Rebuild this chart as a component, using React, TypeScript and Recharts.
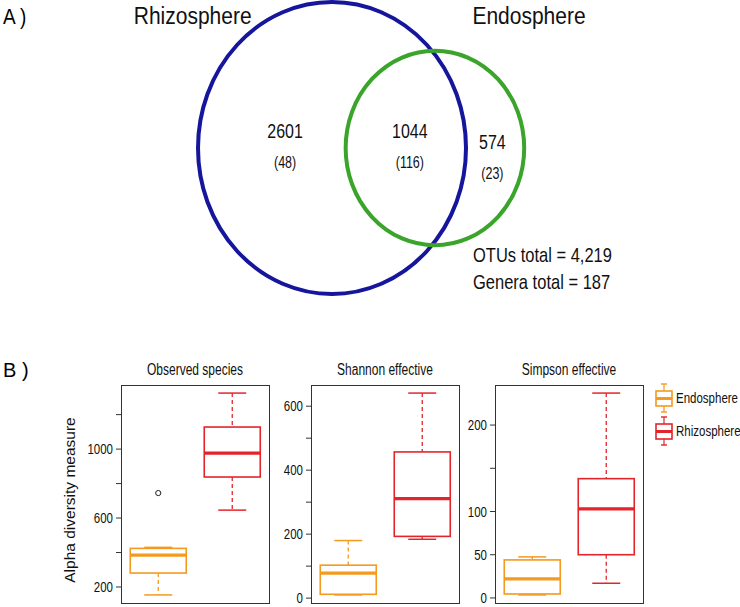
import React from "react";
import { ScatterChart, Scatter, XAxis, YAxis, ComposedChart, Bar } from "recharts";

const FONT = '"Liberation Sans", Arial, Helvetica, sans-serif';

// Venn: Rhizosphere only, shared, Endosphere only
const vennSets = ["Rhizosphere", "Endosphere"];
const vennColors = ["#16169c", "#3aa52a"];
const otuCounts = [2601, 1044, 574];
const generaCounts = [48, 116, 23];

// box plots: [min, q1, median, q3, max] per group
const groups = ["Endosphere", "Rhizosphere"];
const groupColors = ["#f39a1f", "#e3252b"];

const observedSpecies = [
  [154, 281, 385, 424, 430],
  [646, 838, 977, 1128, 1325],
];
const observedOutliers = [[745], []];
const observedTicks = [200, 400, 600, 800, 1000, 1200];
const observedLabels = [200, 600, 1000];

const shannonEffective = [
  [10, 12, 78, 103, 180],
  [184, 193, 311, 457, 641],
];
const shannonOutliers = [[], []];
const shannonTicks = [0, 100, 200, 300, 400, 500, 600];
const shannonLabels = [0, 200, 400, 600];

const simpsonEffective = [
  [3.5, 4.6, 22, 44, 47.5],
  [17, 50, 103, 138, 237],
];
const simpsonOutliers = [[], []];
const simpsonTicks = [0, 50, 100, 150, 200];
const simpsonLabels = [0, 50, 100, 200];

// ---- venn geometry (area proportional) ----
const lensArea = (r1: number, r2: number, d: number) => {
  if (d >= r1 + r2) return 0;
  if (d <= Math.abs(r1 - r2)) return Math.PI * Math.min(r1, r2) ** 2;
  const a = r1 * r1 * Math.acos((d * d + r1 * r1 - r2 * r2) / (2 * d * r1));
  const b = r2 * r2 * Math.acos((d * d + r2 * r2 - r1 * r1) / (2 * d * r2));
  const c = 0.5 * Math.sqrt((-d + r1 + r2) * (d + r1 - r2) * (d - r1 + r2) * (d + r1 + r2));
  return a + b - c;
};

const rA = Math.sqrt((otuCounts[0] + otuCounts[1]) / Math.PI);
const rB = Math.sqrt((otuCounts[1] + otuCounts[2]) / Math.PI);
let lo = Math.abs(rA - rB);
let hi = rA + rB;
for (let i = 0; i < 60; i++) {
  const mid = (lo + hi) / 2;
  if (lensArea(rA, rB, mid) > otuCounts[1]) lo = mid;
  else hi = mid;
}
const dAB = (lo + hi) / 2;

const VENN_W = 740;
const VENN_H = 300;
const KX = 134 / rA;
const KY = 146 / rA;
const CX0 = 332;
const CY0 = 148;

const circleRows = vennSets.map((name, i) => ({
  x: i === 0 ? 0 : dAB,
  y: 0,
  r: i === 0 ? rA : rB,
  name,
  color: vennColors[i],
  side: i === 0 ? "left" : "right",
}));

const labelRows = [
  { x: -0.35 * rA, y: 0, count: otuCounts[0], genera: generaCounts[0], dy: 0 },
  { x: (dAB - rB + rA) / 2 + 0.03 * rA, y: 0, count: otuCounts[1], genera: generaCounts[1], dy: 0 },
  { x: (rA + dAB + rB) / 2 - 0.02 * rA, y: 0, count: otuCounts[2], genera: generaCounts[2], dy: 11 },
];

// text drawn a little taller than wide, like the source figure
const SText = ({ x, y, size, sy = 1.28, anchor = "middle", children }: any) => (
  <text
    transform={`translate(${x},${y}) scale(1,${sy})`}
    textAnchor={anchor}
    dominantBaseline="central"
    fontSize={size}
    fontFamily={FONT}
    fill="#111"
  >
    {children}
  </text>
);

const Tall = ({ sy = 1.28, children }: any) => (
  <span style={{ display: "inline-block", transform: `scaleY(${sy})`, transformOrigin: "center" }}>{children}</span>
);

const CircleShape = (props: any) => {
  const { cx, cy, payload } = props;
  const rx = payload.r * KX;
  const ry = payload.r * KY;
  const left = payload.side === "left";
  return (
    <g>
      <ellipse cx={cx} cy={cy} rx={rx} ry={ry} fill="none" stroke={payload.color} strokeWidth={4} />
      <SText x={left ? cx - 0.6 * rx : cx + 0.42 * rx} y={16} size={21} sy={1.13} anchor={left ? "end" : "start"}>
        {payload.name}
      </SText>
    </g>
  );
};

const RegionLabel = (props: any) => {
  const { cx, cy, payload } = props;
  return (
    <g>
      <SText x={cx} y={cy - 17 + payload.dy} size={16} sy={1.3}>
        {payload.count}
      </SText>
      <SText x={cx} y={cy + 14 + payload.dy} size={12.5} sy={1.25}>
        ({payload.genera})
      </SText>
    </g>
  );
};

// ---- box plots ----
const PANEL_TOP = 385;
const PANEL_W = 148;
const PANEL_H = 218;

const BoxShape = (props: any) => {
  const { x, y, width, height, payload } = props;
  const [mn, q1, med, q3, mx] = payload.stats;
  const top = Math.min(y, y + height);
  const bottom = Math.max(y, y + height);
  const k = (bottom - top) / (mx - mn);
  const yOf = (v: number) => bottom - (v - mn) * k;
  const c = x + width / 2;
  const cap = width / 4;
  const col = payload.color;
  return (
    <g>
      <line x1={c} x2={c} y1={yOf(mx)} y2={yOf(q3)} stroke={col} strokeWidth={1.3} strokeDasharray="4 3" />
      <line x1={c} x2={c} y1={yOf(q1)} y2={yOf(mn)} stroke={col} strokeWidth={1.3} strokeDasharray="4 3" />
      <line x1={c - cap} x2={c + cap} y1={yOf(mx)} y2={yOf(mx)} stroke={col} strokeWidth={1.5} />
      <line x1={c - cap} x2={c + cap} y1={yOf(mn)} y2={yOf(mn)} stroke={col} strokeWidth={1.5} />
      <rect x={x} y={yOf(q3)} width={width} height={yOf(q1) - yOf(q3)} fill="#fff" stroke={col} strokeWidth={1.6} />
      <line x1={x} x2={x + width} y1={yOf(med)} y2={yOf(med)} stroke={col} strokeWidth={3.2} />
      {payload.outliers.map((o: number, i: number) => (
        <circle key={i} cx={c} cy={yOf(o)} r={2.6} fill="none" stroke="#222" strokeWidth={1} />
      ))}
    </g>
  );
};

const makeTick = (labels: number[]) => (props: any) => {
  const { x, y, payload } = props;
  if (!labels.includes(payload.value)) return <g />;
  return (
    <SText x={x} y={y} size={11.5} sy={1.3} anchor="end">
      {payload.value}
    </SText>
  );
};

function BoxPanel({
  title,
  stats,
  outliers,
  ticks,
  labels,
  left,
}: {
  title: string;
  stats: number[][];
  outliers: number[][];
  ticks: number[];
  labels: number[];
  left: number;
}) {
  const axisW = 40;
  const all = stats.flat().concat(outliers.flat());
  const dMin = Math.min(...all);
  const dMax = Math.max(...all);
  const pad = (dMax - dMin) * 0.04;
  const rows = groups.map((g, i) => ({
    group: g,
    range: [stats[i][0], stats[i][4]],
    stats: stats[i],
    outliers: outliers[i],
    color: groupColors[i],
  }));
  return (
    <div style={{ position: "absolute", left: left - axisW, top: PANEL_TOP - 2 }}>
      <div
        style={{
          position: "absolute",
          left: axisW,
          width: PANEL_W,
          top: -21,
          textAlign: "center",
          fontSize: 12,
          lineHeight: "16px",
          color: "#111",
        }}
      >
        <Tall sy={1.3}>{title}</Tall>
      </div>
      <ComposedChart
        width={axisW + PANEL_W + 2}
        height={PANEL_H + 12}
        data={rows}
        margin={{ top: 2, right: 2, bottom: 10, left: 0 }}
        barCategoryGap="12.5%"
        style={{ overflow: "visible" }}
      >
        <XAxis dataKey="group" hide />
        <YAxis
          type="number"
          domain={[dMin - pad, dMax + pad]}
          allowDataOverflow
          ticks={ticks}
          interval={0}
          width={axisW}
          axisLine={false}
          tickLine={{ stroke: "#333" }}
          tickSize={5}
          tickMargin={3}
          tick={makeTick(labels)}
        />
        <Bar dataKey="range" shape={<BoxShape />} isAnimationActive={false} />
      </ComposedChart>
      <div
        style={{
          position: "absolute",
          left: axisW - 0.5,
          top: 1.5,
          width: PANEL_W + 1,
          height: PANEL_H + 1,
          border: "1.5px solid #333",
          boxSizing: "border-box",
          pointerEvents: "none",
        }}
      />
    </div>
  );
}

function LegendIcon({ color }: { color: string }) {
  return (
    <svg width={18} height={30} style={{ display: "block" }}>
      <line x1={6} x2={12} y1={1} y2={1} stroke={color} strokeWidth={1.4} />
      <line x1={9} x2={9} y1={1} y2={8} stroke={color} strokeWidth={1.2} />
      <rect x={1} y={8} width={16} height={15} fill="#fff" stroke={color} strokeWidth={1.6} />
      <line x1={1} x2={17} y1={15.5} y2={15.5} stroke={color} strokeWidth={3} />
      <line x1={9} x2={9} y1={23} y2={29} stroke={color} strokeWidth={1.2} />
      <line x1={6} x2={12} y1={29} y2={29} stroke={color} strokeWidth={1.4} />
    </svg>
  );
}

export default function App() {
  const otuTotal = otuCounts.reduce((a, b) => a + b, 0);
  const generaTotal = generaCounts.reduce((a, b) => a + b, 0);
  return (
    <div
      style={{
        position: "absolute",
        left: 0,
        top: 0,
        width: 740,
        height: 607,
        background: "#fff",
        fontFamily: FONT,
        overflow: "hidden",
      }}
    >
      <div style={{ position: "absolute", left: 3, top: 4, fontSize: 19, lineHeight: "26px" }}>
        <Tall sy={1.15}>A )</Tall>
      </div>
      <div style={{ position: "absolute", left: 0, top: 0 }}>
        <ScatterChart width={VENN_W} height={VENN_H} margin={{ top: 0, right: 0, bottom: 0, left: 0 }}>
          <XAxis
            type="number"
            dataKey="x"
            hide
            allowDataOverflow
            domain={[-CX0 / KX, (VENN_W - CX0) / KX]}
          />
          <YAxis
            type="number"
            dataKey="y"
            hide
            allowDataOverflow
            domain={[(CY0 - VENN_H) / KY, CY0 / KY]}
          />
          <Scatter data={circleRows} shape={<CircleShape />} isAnimationActive={false} />
          <Scatter data={labelRows} shape={<RegionLabel />} isAnimationActive={false} />
        </ScatterChart>
      </div>
      <div style={{ position: "absolute", left: 473, top: 243, fontSize: 16.5, lineHeight: "22px", color: "#111" }}>
        <Tall sy={1.27}>OTUs total = {otuTotal.toLocaleString("en-US")}</Tall>
      </div>
      <div style={{ position: "absolute", left: 473, top: 270, fontSize: 16.5, lineHeight: "22px", color: "#111" }}>
        <Tall sy={1.27}>Genera total = {generaTotal}</Tall>
      </div>

      <div style={{ position: "absolute", left: 3, top: 357, fontSize: 20, lineHeight: "26px" }}>B )</div>
      <div
        style={{
          position: "absolute",
          left: 70 - 100,
          top: 500 - 10,
          width: 200,
          height: 20,
          lineHeight: "20px",
          textAlign: "center",
          fontSize: 15.5,
          color: "#111",
          transform: "rotate(-90deg)",
        }}
      >
        Alpha diversity measure
      </div>
      <BoxPanel
        title="Observed species"
        stats={observedSpecies}
        outliers={observedOutliers}
        ticks={observedTicks}
        labels={observedLabels}
        left={121}
      />
      <BoxPanel
        title="Shannon effective"
        stats={shannonEffective}
        outliers={shannonOutliers}
        ticks={shannonTicks}
        labels={shannonLabels}
        left={311}
      />
      <BoxPanel
        title="Simpson effective"
        stats={simpsonEffective}
        outliers={simpsonOutliers}
        ticks={simpsonTicks}
        labels={simpsonLabels}
        left={495}
      />
      <div style={{ position: "absolute", left: 655, top: 381 }}>
        {groups.map((g, i) => (
          <div key={g} style={{ display: "flex", alignItems: "center", height: 33 }}>
            <LegendIcon color={groupColors[i]} />
            <span style={{ marginLeft: 3, fontSize: 11.5, color: "#111", whiteSpace: "nowrap" }}>
              <Tall sy={1.3}>{g}</Tall>
            </span>
          </div>
        ))}
      </div>
    </div>
  );
}
